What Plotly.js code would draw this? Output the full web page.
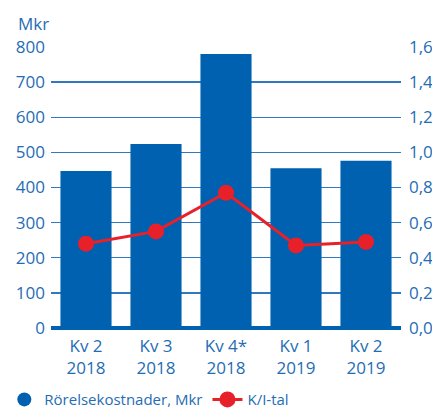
<!DOCTYPE html>
<html>
<head>
<meta charset="utf-8">
<script src="https://cdn.plot.ly/plotly-3.0.1.min.js"></script>
<style>
  html, body { margin: 0; padding: 0; background: #fff; }
  #graph { width: 432px; height: 412px; }
</style>
</head>
<body>
<div id="graph"></div>
<script>
var quarters = ["Kv 2<br>2018", "Kv 3<br>2018", "Kv 4*<br>2018", "Kv 1<br>2019", "Kv 2<br>2019"];
var costs = [447, 524, 780, 455, 476];       // Rörelsekostnader, Mkr
var kiRatio = [0.48, 0.55, 0.77, 0.47, 0.49]; // K/I-tal
var leftTicks = [0, 100, 200, 300, 400, 500, 600, 700, 800];
var rightTicks = [0, 0.2, 0.4, 0.6, 0.8, 1.0, 1.2, 1.4, 1.6];

var blue = "#0061b0";
var red = "#e8202a";
var textBlue = "#1f6db5";

function drawGraph() {
    var bars = {
        x: quarters,
        y: costs,
        type: "bar",
        marker: { color: blue },
        showlegend: false,
        hoverinfo: "y"
    };

    // legend entry only, so the bar series gets a round symbol like the original
    var barLegend = {
        x: quarters,
        y: costs.map(function () { return null; }),
        type: "scatter",
        mode: "markers",
        name: "Rörelsekostnader, Mkr",
        marker: { color: blue, size: 14, symbol: "circle" }
    };

    var line = {
        x: quarters,
        y: kiRatio,
        yaxis: "y2",
        type: "scatter",
        mode: "lines+markers",
        name: "K/I-tal",
        line: { color: red, width: 3 },
        marker: { color: red, size: 16 }
    };

    var layout = {
        width: 432,
        height: 412,
        margin: { l: 51, r: 31, t: 47, b: 84 },
        paper_bgcolor: "#fff",
        plot_bgcolor: "#fff",
        separators: ", ",
        font: { family: "Open Sans, sans-serif", size: 17, color: textBlue },
        bargap: 0.27,
        xaxis: {
            showgrid: false,
            showline: false,
            ticks: "",
            automargin: false,
            ticklabelstandoff: 6,
            tickfont: { size: 17, color: textBlue },
            fixedrange: true
        },
        yaxis: {
            range: [0, 800],
            tickvals: leftTicks,
            showgrid: true,
            gridcolor: "#3079c0",
            gridwidth: 1.3,
            zeroline: true,
            zerolinecolor: blue,
            zerolinewidth: 4,
            showline: false,
            ticks: "",
            automargin: false,
            ticklabelstandoff: 5,
            fixedrange: true
        },
        yaxis2: {
            range: [0, 1.6],
            tickvals: rightTicks,
            tickformat: ".1f",
            overlaying: "y",
            side: "right",
            showgrid: false,
            zeroline: false,
            showline: false,
            ticks: "",
            automargin: false,
            ticklabelstandoff: 7,
            fixedrange: true
        },
        legend: {
            orientation: "h",
            xref: "container",
            yref: "container",
            x: 0.01,
            xanchor: "left",
            y: 0.07,
            yanchor: "top",
            font: { size: 15, color: textBlue },
            itemwidth: 30,
            tracegroupgap: 0
        },
        annotations: [{
            text: "Mkr",
            xref: "paper",
            yref: "paper",
            x: -0.1,
            xanchor: "left",
            y: 1.085,
            yanchor: "middle",
            showarrow: false,
            font: { size: 17, color: textBlue }
        }]
    };

    Plotly.newPlot("graph", [bars, barLegend, line], layout, { displayModeBar: false, staticPlot: true });
}

drawGraph();
</script>
</body>
</html>
